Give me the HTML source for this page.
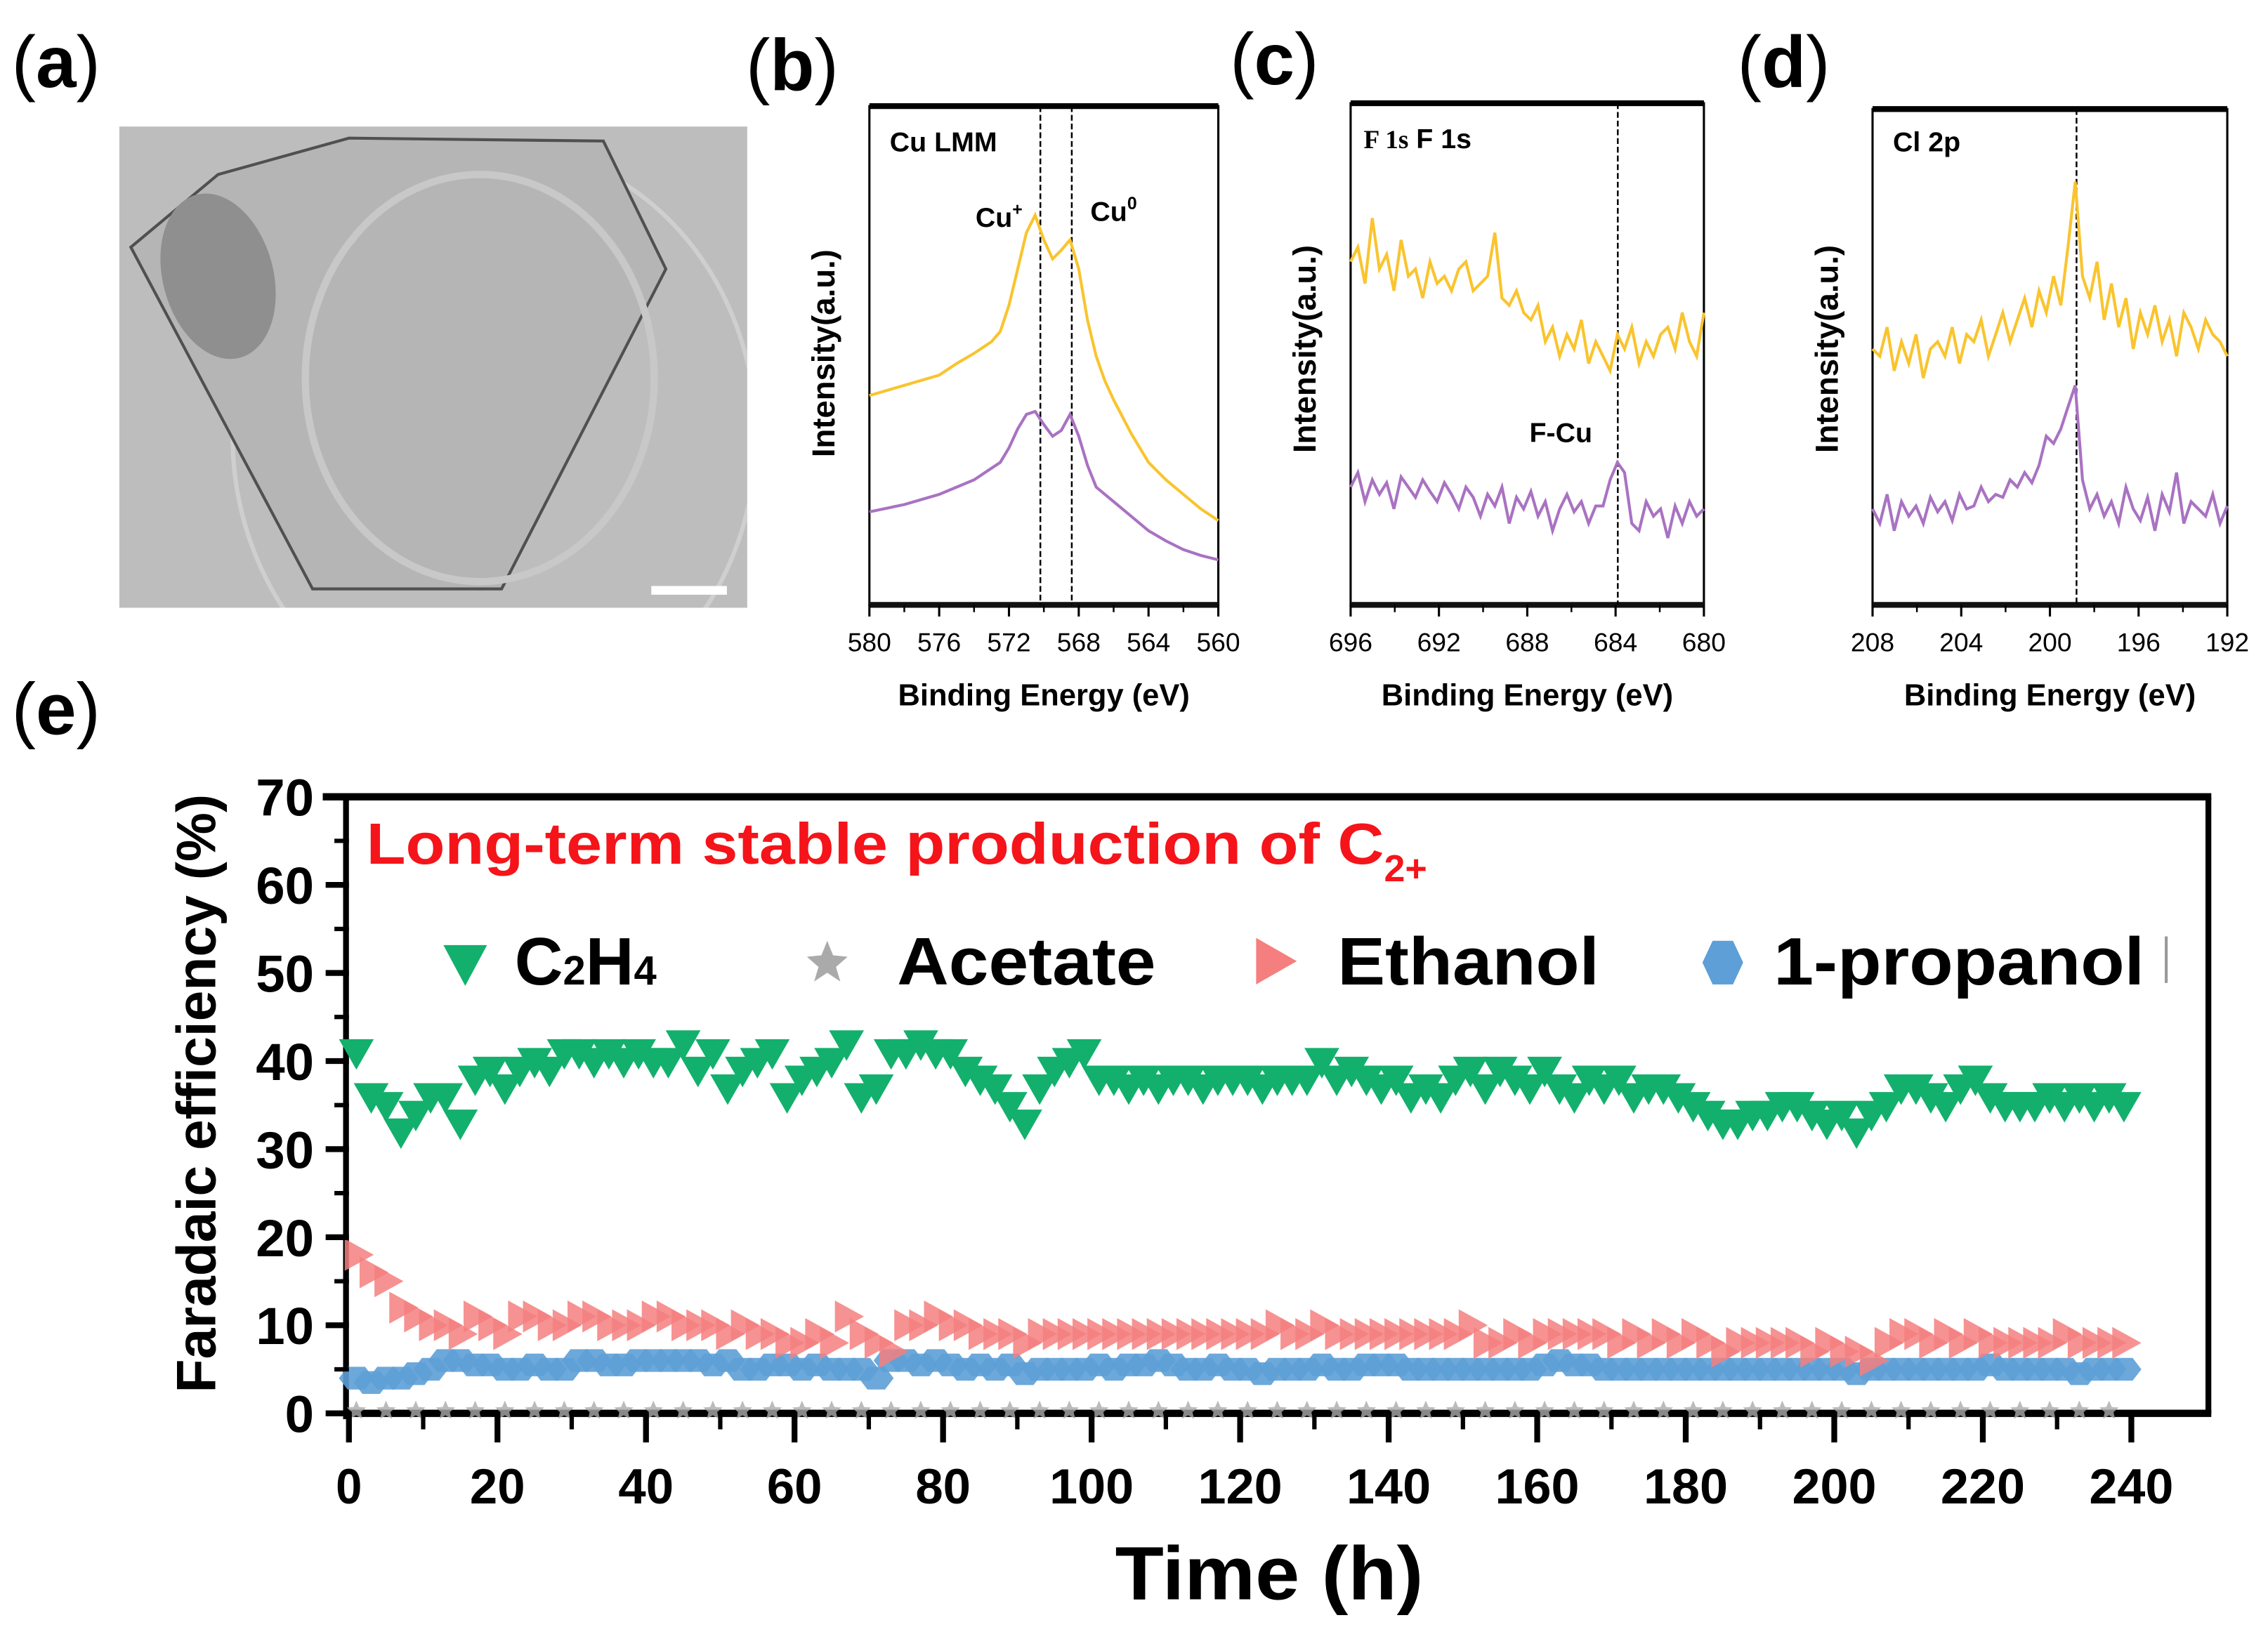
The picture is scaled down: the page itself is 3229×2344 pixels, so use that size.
<!DOCTYPE html>
<html><head><meta charset="utf-8"><style>
html,body{margin:0;padding:0;background:#fff}
svg{display:block}
text{font-family:"Liberation Sans",Arial,sans-serif}
</style></head><body>
<svg id="fig" xmlns="http://www.w3.org/2000/svg" width="3229" height="2344" viewBox="0 0 1560 1132" preserveAspectRatio="none">
<defs><clipPath id="clipA"><rect x="82" y="87" width="432" height="331"/></clipPath></defs>
<rect width="1560" height="1132" fill="#fff"/>
<text x="8" y="60" font-size="50">(<tspan font-weight="bold">a</tspan>)</text>
<text x="513" y="62" font-size="50">(<tspan font-weight="bold">b</tspan>)</text>
<text x="846" y="58" font-size="50">(<tspan font-weight="bold">c</tspan>)</text>
<text x="1195" y="60" font-size="50">(<tspan font-weight="bold">d</tspan>)</text>
<text x="8" y="505" font-size="50">(<tspan font-weight="bold">e</tspan>)</text>

<g clip-path="url(#clipA)">
<rect x="82" y="87" width="432" height="331" fill="#bdbdbd"/>
<ellipse cx="340" cy="300" rx="180" ry="200" fill="none" stroke="#cfcfcf" stroke-width="3"/>
<polygon points="90,170 150,120 240,95 415,97 458,185 345,405 215,405" fill="#b5b5b5" stroke="#505050" stroke-width="2"/>
<ellipse cx="150" cy="190" rx="38" ry="58" fill="#8f8f8f" transform="rotate(-15 150 190)"/>
<ellipse cx="330" cy="260" rx="120" ry="140" fill="none" stroke="#c8c8c8" stroke-width="5"/>
<rect x="448" y="403" width="52" height="6" fill="#fff"/>
</g>

<g id="xps"></g>
<g id="chartE"></g>
</svg>
<script>
const NS="http://www.w3.org/2000/svg";
function mk(tag,attrs,parent){const e=document.createElementNS(NS,tag);for(const k in attrs)e.setAttribute(k,attrs[k]);parent.appendChild(e);return e;}

const bEnergy=[580,578,576,575,574,573,572.5,572,571.5,571,570.5,570,569.5,569,568.5,568,567.5,567,566.5,566,565,564,563,562,561,560];
const bYellow=[148,155,162,170,177,185,192,210,235,260,272,255,242,248,255,235,200,175,158,145,122,102,90,80,70,62];
const bPurple=[68,73,80,85,90,98,102,112,125,135,137,128,120,124,135,120,100,85,80,75,65,55,48,42,38,35];
const cYellow=[240,250,225,270,235,245,220,255,230,235,215,240,225,230,220,235,240,220,225,230,260,215,210,220,205,200,210,185,195,175,190,180,200,170,185,175,165,190,180,195,170,185,175,190,195,180,205,185,175,205];
const cPurple=[85,95,75,90,80,88,70,92,85,78,90,82,75,88,80,70,85,78,65,80,72,85,60,78,70,82,65,75,55,70,80,68,75,60,72,72,90,102,95,60,55,75,65,70,50,72,60,75,65,70];
const dYellow=[180,175,195,165,185,170,190,160,180,185,175,195,170,190,185,200,175,190,205,185,200,215,195,220,205,230,210,250,295,230,215,240,200,225,195,215,180,205,190,210,185,200,175,205,195,180,200,190,185,175];
const dPurple=[70,60,80,55,75,65,72,60,78,68,75,62,80,70,72,85,75,80,78,90,85,95,88,100,120,115,125,140,155,90,70,80,65,75,60,85,70,62,78,55,80,68,95,60,75,70,65,80,60,72];
const bTicks=[580,576,572,568,564,560], cTicks=[696,692,688,684,680], dTicks=[208,204,200,196,192];

const xps=document.getElementById('xps');
function xpsPanel(o){
  const g=mk('g',{},xps);
  
  
  const X=v=>o.x0+(o.e0-v)/(o.e0-o.e1)*(o.x1-o.x0);
  const Y=v=>420-v;
  mk('rect',{x:o.x0,y:o.top,width:o.x1-o.x0,height:416-o.top,fill:'none',stroke:'#000','stroke-width':1.5},g);
  mk('line',{x1:o.x0,x2:o.x1,y1:o.top,y2:o.top,stroke:'#000','stroke-width':4},g);
  mk('line',{x1:o.x0,x2:o.x1,y1:416,y2:416,stroke:'#111','stroke-width':4},g);
  o.ticks.forEach((t,i)=>{
    const tx=X(t);
    mk('line',{x1:tx,x2:tx,y1:416,y2:424,stroke:'#000','stroke-width':1.5},g);
    if(i<o.ticks.length-1){const m=X(t-(o.ticks[0]-o.ticks[1])/2);mk('line',{x1:m,x2:m,y1:416,y2:421,stroke:'#000','stroke-width':1.2},g);}
    const tl=mk('text',{x:tx,y:448,'font-size':18,'text-anchor':'middle'},g);tl.textContent=t;
    
    
  });
  o.dashes.forEach(d=>{mk('line',{x1:X(d),x2:X(d),y1:o.top,y2:416,stroke:'#000','stroke-width':1.2,'stroke-dasharray':'4,2'},g);});
  const series=[[o.yel,'#f9c42e','series-yellow'],[o.pur,'#a972c2','series-purple']];
  series.forEach(([arr,col,nm])=>{
    const en=o.energy||arr.map((_,i)=>o.e0-(o.e0-o.e1)*i/(arr.length-1));
    const pts=arr.map((v,i)=>X(en[i]).toFixed(1)+','+Y(v).toFixed(1)).join(' ');
    const p=mk('polyline',{points:pts,fill:'none',stroke:col,'stroke-width':2},g);
    
    
  });
  const yt=mk('text',{x:0,y:0,'font-size':22,'font-weight':'bold','text-anchor':'middle',transform:`translate(${o.x0-24},${o.ytY}) rotate(-90)`},g);
  yt.textContent='Intensity(a.u.)';
  
  
  const xt=mk('text',{x:(o.x0+o.x1)/2,y:485,'font-size':21,'font-weight':'bold','text-anchor':'middle'},g);
  xt.textContent='Binding Energy (eV)';
  
  
  o.labels.forEach(l=>{const t=mk('text',{x:l[0],y:l[1],'font-size':l[3]||19,'font-weight':'bold'},g);t.innerHTML=l[2];
    
    });
}
xpsPanel({name:'panel-b-cu-lmm',x0:598,x1:838,e0:580,e1:560,top:73,energy:bEnergy,yel:bYellow,pur:bPurple,ticks:bTicks,dashes:[570.2,568.4],ytY:243,
  labels:[[612,104,'Cu LMM'],[671,156,'Cu<tspan font-size="12" dy="-8">+</tspan>'],[750,152,'Cu<tspan font-size="12" dy="-8">0</tspan>']]});
xpsPanel({name:'panel-c-f1s',x0:929,x1:1172,e0:696,e1:680,top:71,yel:cYellow,pur:cPurple,ticks:cTicks,dashes:[683.9],ytY:240,
  labels:[[938,102,'<tspan font-family="Liberation Serif" font-size="18">F 1s</tspan>  F 1s'],[1052,304,'F-Cu']]});
xpsPanel({name:'panel-d-cl2p',x0:1288,x1:1532,e0:208,e1:192,top:75,yel:dYellow,pur:dPurple,ticks:dTicks,dashes:[198.8],ytY:240,
  labels:[[1302,104,'Cl 2p']]});

const times=[1,3,5,7,9,11,13,15,17,19,21,23,25,27,29,31,33,35,37,39,41,43,45,47,49,51,53,55,57,59,61,63,65,67,69,71,73,75,77,79,81,83,85,87,89,91,93,95,97,99,101,103,105,107,109,111,113,115,117,119,121,123,125,127,129,131,133,135,137,139,141,143,145,147,149,151,153,155,157,159,161,163,165,167,169,171,173,175,177,179,181,183,185,187,189,191,193,195,197,199,201,203,205,207,209,211,213,215,217,219,221,223,225,227,229,231,233,235,237,239];
const c2h4=[41,36,35,32,34,36,36,33,38,39,37,39,40,39,41,41,40,41,40,41,40,40,42,39,41,37,39,40,41,36,38,39,40,42,36,37,41,41,42,41,41,39,38,37,35,33,37,39,40,41,38,38,37,38,37,38,38,37,38,38,38,37,38,38,38,40,38,39,38,37,38,36,37,36,38,39,37,39,38,37,39,37,36,38,37,38,36,37,37,36,35,34,33,33,34,34,35,35,34,33,34,32,34,35,37,37,36,35,37,38,36,35,35,35,36,35,36,35,36,35];
const ethanol=[18,16,15,12,11,10,10,9,11,10,9,11,11,10,10,11,11,10,10,10,11,11,10,10,10,9,10,9,9,8,8,9,8,11,9,8,7,10,10,11,10,10,9,9,9,8,9,9,9,9,9,9,9,9,9,9,9,9,9,9,9,9,10,9,9,10,9,9,9,9,9,9,9,9,9,10,8,8,9,8,9,9,9,9,9,8,9,8,9,8,9,8,7,8,8,8,8,8,7,8,7,7,6,8,9,9,8,9,8,9,8,8,8,8,8,9,8,8,8,8];
const propanol=[4,3.5,4,4,4.5,5,6,6,5.5,5.5,5,5,5.5,5,5,6,6,5.5,5.5,6,6,6,6,6,5.5,6,5,5,5.5,5.5,5,5.5,5,5,5,4,6,6,5.5,6,5.5,5,5.5,5,5.5,4.5,5,5,5,5,5.5,5,5.5,5.5,6,5.5,5,5,5.5,5,5,4.5,5,5,5,5.5,5,5,5.5,5.5,5.5,5,5,5,5,5,5,5,5,5,5.5,6,5.5,5.5,5,5,5,5,5,5,5,5,5,5,5,5,5,5,5,5,5,4.5,5,5,5,5,5,5,5,5,5.5,5,5,5,5,5,4.5,5,5,5];
const acetate=[0.3,0.3,0.3,0.3,0.3,0.3,0.3,0.3,0.3,0.3,0.3,0.3,0.3,0.3,0.3,0.3,0.3,0.3,0.3,0.3,0.3,0.3,0.3,0.3,0.3,0.3,0.3,0.3,0.3,0.3,0.3,0.3,0.3,0.3,0.3,0.3,0.3,0.3,0.3,0.3,0.3,0.3,0.3,0.3,0.3,0.3,0.3,0.3,0.3,0.3,0.3,0.3,0.3,0.3,0.3,0.3,0.3,0.3,0.3,0.3];
const yTickLabels=[0,10,20,30,40,50,60,70];
const xTickLabels=[0,20,40,60,80,100,120,140,160,180,200,220,240];

const E=document.getElementById('chartE');
const L=240,R=1519,T=548,B=972;
const xS=t=>240+t*(1466-240)/240;
const yS=v=>972-v*(972-548)/70;

const fr=mk('g',{},E);


mk('line',{x1:222,x2:R+2,y1:T,y2:T,stroke:'#000','stroke-width':5},fr);
mk('line',{x1:R,x2:R,y1:T,y2:B,stroke:'#000','stroke-width':4},fr);
mk('line',{x1:L-2,x2:L-2,y1:T,y2:B+4,stroke:'#000','stroke-width':4},fr);

const marks=mk('g',{},E);


function hexPts(cx,cy,rx,ry){let p=[];for(let i=0;i<6;i++){const a=Math.PI/3*i;p.push((cx+rx*Math.cos(a)).toFixed(1)+','+(cy+ry*Math.sin(a)).toFixed(1));}return p.join(' ');}
function starPts(cx,cy,r){let p=[];for(let i=0;i<10;i++){const a=-Math.PI/2+Math.PI/5*i;const rr=i%2?r*0.45:r;p.push((cx+rr*Math.cos(a)).toFixed(1)+','+(cy+rr*Math.sin(a)).toFixed(1));}return p.join(' ');}
acetate.forEach((v,i)=>{
  const s=mk('polygon',{points:starPts(xS(times[i*2]),yS(v),7),fill:'#aaaaaa',opacity:0.8},marks);
  
  
});
times.forEach((t,i)=>{
  if(propanol[i]==null)return;const x=xS(t),y=yS(propanol[i]);
  const h=mk('polygon',{points:hexPts(x,y,12,9),fill:'#5d9fd6',opacity:0.9},marks);
  
  
});
times.forEach((t,i)=>{
  if(ethanol[i]==null)return;const x=xS(t),y=yS(ethanol[i]);
  const p=mk('polygon',{points:`${x-8},${y-11} ${x+12},${y} ${x-8},${y+11}`,fill:'#f57f7f',opacity:0.85},marks);
  
  
});
times.forEach((t,i)=>{
  if(c2h4[i]==null)return;const x=xS(t),y=yS(c2h4[i]);
  const p=mk('polygon',{points:`${x-12},${y-9} ${x+12},${y-9} ${x},${y+12}`,fill:'#12b06c'},marks);
  
  
});
mk('line',{x1:L-4,x2:R+2,y1:B,y2:B,stroke:'#000','stroke-width':5},fr);

yTickLabels.forEach(v=>{
  mk('line',{x1:224,x2:L,y1:yS(v),y2:yS(v),stroke:'#000','stroke-width':4},E);
  if(v<70){const m=yS(v+5);mk('line',{x1:230,x2:L,y1:m,y2:m,stroke:'#000','stroke-width':3},E);}
  const tl=mk('text',{x:216,y:yS(v)+13,'font-size':36,'font-weight':'bold','text-anchor':'end',textLength:v>=10?40:20,lengthAdjust:'spacingAndGlyphs'},E);
  tl.textContent=v;
  
  
});
xTickLabels.forEach((v,i)=>{
  mk('line',{x1:xS(v),x2:xS(v),y1:B,y2:B+20,stroke:'#000','stroke-width':4},E);
  if(i<xTickLabels.length-1){const m=xS(v+10);mk('line',{x1:m,x2:m,y1:B,y2:B+11,stroke:'#000','stroke-width':3},E);}
  const tl=mk('text',{x:xS(v),y:1034,'font-size':34,'font-weight':'bold','text-anchor':'middle',textLength:v>=100?58:(v>0?38:18),lengthAdjust:'spacingAndGlyphs'},E);
  tl.textContent=v;
  
  
});
</script>
<svg style="position:absolute;left:0;top:0" width="3229" height="2344" viewBox="0 0 1560 1132" preserveAspectRatio="none">
<text x="252" y="594" font-size="40" font-weight="bold" fill="#f4141a" font-family="Liberation Sans, sans-serif"><tspan textLength="700" lengthAdjust="spacingAndGlyphs">Long-term stable production of C</tspan><tspan font-size="26" dy="12">2+</tspan></text>
<g font-family="Liberation Sans, sans-serif" font-weight="bold" font-size="46">
<polygon points="305,650 335,650 320,678" fill="#12b06c"/>
<text x="354" y="677">C<tspan font-size="28">2</tspan>H<tspan font-size="28">4</tspan></text>
<polygon points="569,647 573,657 583,658 575,665 578,675 569,669 560,675 563,665 555,658 565,657" fill="#aaa"/>
<text x="617" y="677" textLength="178" lengthAdjust="spacingAndGlyphs">Acetate</text>
<polygon points="864,645 892,661 864,677" fill="#f57f7f"/>
<text x="920" y="677" textLength="180" lengthAdjust="spacingAndGlyphs">Ethanol</text>
<polygon points="1178,647 1192,647 1199,662 1192,677 1178,677 1171,662" fill="#5d9fd6"/>
<text x="1220" y="677" textLength="255" lengthAdjust="spacingAndGlyphs">1-propanol</text>
<line x1="1490" x2="1490" y1="644" y2="676" stroke="#999" stroke-width="2"/>
</g>
<text x="0" y="0" transform="translate(148,752) rotate(-90)" text-anchor="middle" font-size="38" font-weight="bold" font-family="Liberation Sans, sans-serif">Faradaic efficiency (%)</text>
<text x="873" y="1100" text-anchor="middle" font-size="52" font-weight="bold" textLength="212" lengthAdjust="spacingAndGlyphs" font-family="Liberation Sans, sans-serif">Time (h)</text>
</svg>
</body></html>
